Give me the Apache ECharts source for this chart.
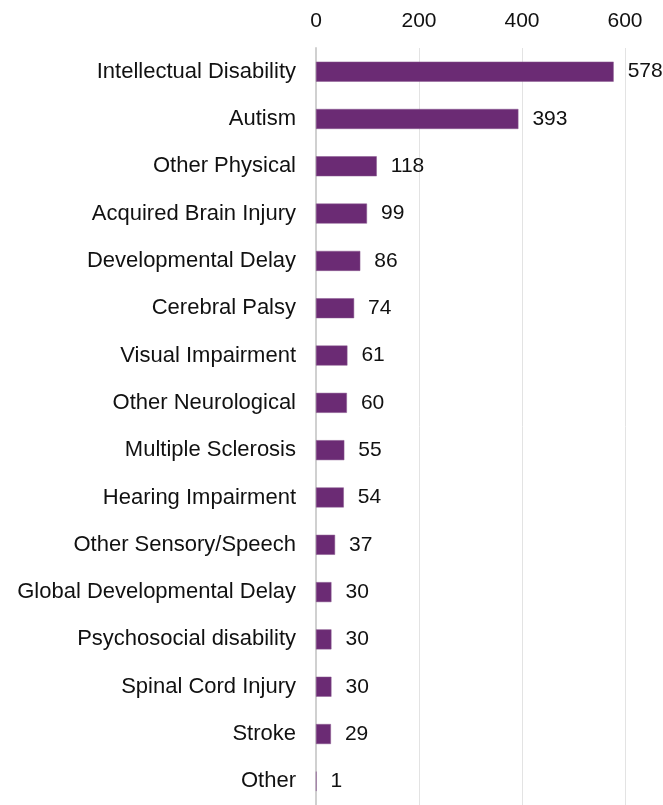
<!DOCTYPE html>
<html>
<head>
<meta charset="utf-8">
<script src="https://cdn.jsdelivr.net/npm/echarts@6/dist/echarts.min.js"></script>
<style>
  html, body { margin: 0; padding: 0; background: #fff; }
  #chart { width: 663px; height: 805px; }
</style>
</head>
<body>
<div id="chart"></div>
<script>
var categories = [
  'Intellectual Disability', 'Autism', 'Other Physical', 'Acquired Brain Injury',
  'Developmental Delay', 'Cerebral Palsy', 'Visual Impairment', 'Other Neurological',
  'Multiple Sclerosis', 'Hearing Impairment', 'Other Sensory/Speech',
  'Global Developmental Delay', 'Psychosocial disability', 'Spinal Cord Injury',
  'Stroke', 'Other'
]
var values = [578, 393, 118, 99, 86, 74, 61, 60, 55, 54, 37, 30, 30, 30, 29, 1]
var ticks = [0, 200, 400, 600]

var chart = echarts.init(document.getElementById('chart'))
var option = {
  animation: false,
  textStyle: { fontFamily: 'Liberation Sans, Arial, sans-serif' },
  grid: {
    left: 316,
    right: 38,
    top: 48,
    height: 759,
    containLabel: false
  },
  xAxis: {
    type: 'value',
    position: 'top',
    min: ticks[0],
    max: ticks[ticks.length - 1],
    interval: 200,
    axisLine: { show: false },
    axisTick: { show: false },
    axisLabel: { color: '#111', fontSize: 21, margin: 16 },
    splitLine: { lineStyle: { color: '#e3e3e3', width: 1 } }
  },
  yAxis: {
    type: 'category',
    inverse: true,
    data: categories,
    axisLine: { lineStyle: { color: '#d0d0d0', width: 2 } },
    axisTick: { show: false },
    axisLabel: { color: '#111', fontSize: 22, margin: 20, padding: [3, 0, 0, 0] }
  },
  series: [
    {
      type: 'bar',
      data: values,
      barWidth: 20,
      itemStyle: { color: '#6B2B74', borderColor: '#8a5a90', borderWidth: 0.5 },
      label: {
        show: true,
        position: 'right',
        distance: 14,
        color: '#111',
        fontSize: 21,
        padding: [3, 0, 0, 0]
      }
    }
  ]
}
chart.setOption(option)
</script>
</body>
</html>
